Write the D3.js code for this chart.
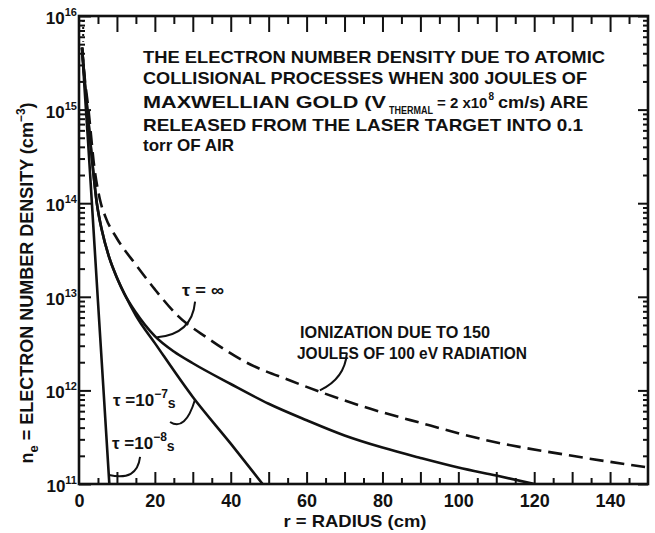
<!DOCTYPE html>
<html>
<head>
<meta charset="utf-8">
<script src="https://cdn.jsdelivr.net/npm/d3@7"></script>
<style>
  body { margin: 0; background: #fff; }
  text { font-family: "Liberation Sans", Arial, sans-serif; font-weight: bold; fill: #111; }
</style>
</head>
<body>
<svg id="chart" width="655" height="533"></svg>
<script>
// Axis ticks
const radiusTickValues = [0, 20, 40, 60, 80, 100, 120, 140];
const decadeTicks = [1e11, 1e12, 1e13, 1e14, 1e15, 1e16];
const decadeExponents = ["11", "12", "13", "14", "15", "16"];

// Collisional electron density, tau = infinity (cm, cm^-3)
const tauInfRadius  = [0.8, 1.5, 2.2, 3, 4.7, 6, 8, 10, 12, 15, 20, 25, 30, 40, 50, 60, 70, 80, 90, 100, 110, 120];
const tauInfDensity = [4.6e15, 2.0e15, 1.0e15, 4.5e14, 1.0e14, 5.2e13, 2.6e13, 1.6e13, 1.07e13, 6.8e12, 3.8e12, 2.6e12, 1.95e12, 1.17e12, 7.2e11, 4.8e11, 3.3e11, 2.45e11, 1.9e11, 1.5e11, 1.23e11, 1.0e11];

// tau = 1e-7 s
const tau7Radius  = [0.8, 1.5, 2.2, 3, 4.7, 6, 8, 10, 12, 15, 20, 30, 40, 48.4];
const tau7Density = [4.6e15, 2.0e15, 1.0e15, 4.5e14, 1.0e14, 5.2e13, 2.6e13, 1.6e13, 1.07e13, 6.3e12, 3.2e12, 8.5e11, 2.7e11, 1.0e11];

// tau = 1e-8 s
const tau8Radius  = [0.8, 1.5, 2.4, 3.4, 5, 6.5, 8];
const tau8Density = [4.6e15, 1.6e15, 4.5e14, 1.0e14, 8.9e12, 9.5e11, 1.0e11];

// Ionization due to 150 J of 100 eV radiation (dashed)
const radRadius  = [0.8, 1.5, 2.5, 4, 5.5, 7, 10, 15, 20, 26, 34, 44, 56, 64, 74, 90, 108, 130, 150];
const radDensity = [4.6e15, 2.2e15, 1.0e15, 2.5e14, 1.1e14, 7.1e13, 4.2e13, 2.2e13, 1.2e13, 6.3e12, 3.6e12, 2.0e12, 1.26e12, 9.5e11, 6.9e11, 4.5e11, 2.9e11, 2.0e11, 1.5e11];

const svg = d3.select("#chart");
const plotLeft = 79, plotRight = 648, plotTop = 16, plotBottom = 484;

const x = d3.scaleLinear().domain([0, 150]).range([plotLeft, plotRight]);
const y = d3.scaleLog().domain([1e11, 1e16]).range([plotBottom, plotTop]);

const axisStroke = 2.6;

// minor log ticks (2..9 in every decade)
const minorY = [];
for (let e = 11; e < 16; e++) for (let m = 2; m <= 9; m++) minorY.push(m * Math.pow(10, e));
const minorX = d3.range(5, 150, 10);
const tenX = d3.range(10, 150, 10);

function styleAxis(g) {
  g.select(".domain").remove();
  g.selectAll(".tick line").attr("stroke", "#111").attr("stroke-width", 2);
}

// bottom axis: labelled ticks, then 10- and 5-unit ticks pointing inward
svg.append("g").attr("transform", `translate(0,${plotBottom})`)
  .call(d3.axisBottom(x).tickValues(radiusTickValues).tickSize(0).tickPadding(10).tickFormat(d3.format("d")))
  .call(styleAxis)
  .selectAll("text").attr("font-size", 18).attr("font-family", "Liberation Sans, Arial, sans-serif").attr("font-weight", "bold").attr("fill", "#111");
svg.append("g").attr("transform", `translate(0,${plotBottom})`)
  .call(d3.axisBottom(x).tickValues(tenX).tickSize(-12).tickFormat(""))
  .call(styleAxis);
svg.append("g").attr("transform", `translate(0,${plotBottom})`)
  .call(d3.axisBottom(x).tickValues(minorX).tickSize(-6).tickFormat(""))
  .call(styleAxis);

// top axis
svg.append("g").attr("transform", `translate(0,${plotTop})`)
  .call(d3.axisTop(x).tickValues(tenX).tickSize(-16).tickFormat(""))
  .call(styleAxis);
svg.append("g").attr("transform", `translate(0,${plotTop})`)
  .call(d3.axisTop(x).tickValues(minorX).tickSize(-8).tickFormat(""))
  .call(styleAxis);

// left axis
svg.append("g").attr("transform", `translate(${plotLeft},0)`)
  .call(d3.axisLeft(y).tickValues(decadeTicks).tickSize(-12).tickFormat(""))
  .call(styleAxis);
svg.append("g").attr("transform", `translate(${plotLeft},0)`)
  .call(d3.axisLeft(y).tickValues(minorY).tickSize(-6).tickFormat(""))
  .call(styleAxis);

// right axis
svg.append("g").attr("transform", `translate(${plotRight},0)`)
  .call(d3.axisRight(y).tickValues(decadeTicks).tickSize(-10).tickFormat(""))
  .call(styleAxis);
svg.append("g").attr("transform", `translate(${plotRight},0)`)
  .call(d3.axisRight(y).tickValues(minorY).tickSize(-5).tickFormat(""))
  .call(styleAxis);

// frame
svg.append("rect")
  .attr("x", plotLeft).attr("y", plotTop)
  .attr("width", plotRight - plotLeft).attr("height", plotBottom - plotTop)
  .attr("fill", "none").attr("stroke", "#111").attr("stroke-width", axisStroke);

// decade labels, 10 with superscript exponent
decadeTicks.forEach((v, i) => {
  const t = svg.append("text")
    .attr("x", plotLeft - 2).attr("y", y(v) + 8)
    .attr("text-anchor", "end").attr("font-size", 17);
  t.append("tspan").text("10");
  t.append("tspan").attr("dy", -8).attr("font-size", 11).text(decadeExponents[i]);
});

// curves
svg.append("clipPath").attr("id", "plotClip")
  .append("rect").attr("x", plotLeft).attr("y", plotTop)
  .attr("width", plotRight - plotLeft).attr("height", plotBottom - plotTop);

const line = d3.line()
  .x(d => x(d[0])).y(d => y(d[1]))
  .curve(d3.curveMonotoneX);

const plot = svg.append("g").attr("clip-path", "url(#plotClip)");

function drawCurve(rs, ns, dashed) {
  plot.append("path")
    .datum(d3.zip(rs, ns))
    .attr("d", line)
    .attr("fill", "none")
    .attr("stroke", "#111")
    .attr("stroke-width", 2.6)
    .attr("stroke-linecap", "butt")
    .attr("stroke-dasharray", dashed ? "14 7" : null);
}

drawCurve(radRadius, radDensity, true);
drawCurve(tauInfRadius, tauInfDensity, false);
drawCurve(tau7Radius, tau7Density, false);
drawCurve(tau8Radius, tau8Density, false);

// short dotted segment near the origin at the top
plot.append("line")
  .attr("x1", x(1.1)).attr("x2", x(1.1))
  .attr("y1", y(1e16) + 4).attr("y2", y(5.3e15))
  .attr("stroke", "#111").attr("stroke-width", 2)
  .attr("stroke-dasharray", "2 5");

// leader lines from labels to curves (radius, density)
function leader(p0, c, p1) {
  svg.append("path")
    .attr("d", `M${x(p0[0])},${y(p0[1])} Q${x(c[0])},${y(c[1])} ${x(p1[0])},${y(p1[1])}`)
    .attr("fill", "none").attr("stroke", "#111").attr("stroke-width", 2);
}
leader([30.6, 8.9e12], [29.8, 4.0e12], [20.6, 3.7e12]);   // tau = infinity
leader([24, 4.6e11], [28, 3.6e11], [30.6, 8.0e11]);       // tau = 1e-7
leader([16.1, 1.95e11], [15.3, 1.06e11], [7.9, 1.25e11]); // tau = 1e-8
leader([70.6, 2.5e12], [70.1, 1.34e12], [63.5, 1.0e12]);  // radiation

// curve labels
svg.append("text").attr("x", 182).attr("y", 296).attr("font-size", 17)
  .attr("textLength", 42).attr("lengthAdjust", "spacingAndGlyphs").text("τ = ∞");

function tauLabel(px, py, exp) {
  const t = svg.append("text").attr("x", px).attr("y", py).attr("font-size", 17);
  t.append("tspan").text("τ =10");
  t.append("tspan").attr("dy", -8).attr("font-size", 12).text(exp);
  t.append("tspan").attr("dy", 10).attr("font-size", 14).text("s");
}
tauLabel(113, 406, "−7");
tauLabel(112, 449, "−8");

svg.append("text").attr("x", 300).attr("y", 338).attr("font-size", 16)
  .attr("textLength", 190).attr("lengthAdjust", "spacingAndGlyphs")
  .text("IONIZATION DUE TO 150");
svg.append("text").attr("x", 297).attr("y", 359).attr("font-size", 16)
  .attr("textLength", 230).attr("lengthAdjust", "spacingAndGlyphs")
  .text("JOULES OF 100 eV RADIATION");

// descriptive block
const noteX = 143;
function noteText(s, px, by, w, size) {
  const t = svg.append("text").attr("x", px).attr("y", by).attr("font-size", size || 17).text(s);
  if (w) t.attr("textLength", w).attr("lengthAdjust", "spacingAndGlyphs");
  return t;
}
noteText("THE ELECTRON NUMBER DENSITY DUE TO ATOMIC", noteX, 63, 462);
noteText("COLLISIONAL PROCESSES WHEN 300 JOULES OF", noteX, 84, 444);
noteText("MAXWELLIAN GOLD (V", noteX, 108, 243);
noteText("THERMAL", 389, 114, 44, 11);
const vth = svg.append("text").attr("x", 437).attr("y", 108).attr("font-size", 15);
vth.append("tspan").text("= 2 x10");
vth.append("tspan").attr("dx", 1).attr("dy", -8).attr("font-size", 10).text("8");
noteText("cm/s) ARE", 498, 108, 90);
noteText("RELEASED FROM THE LASER TARGET INTO 0.1", noteX, 131, 440);
noteText("torr OF AIR", noteX, 151);

// axis titles
svg.append("text").attr("x", 355).attr("y", 527).attr("text-anchor", "middle").attr("font-size", 17)
  .attr("textLength", 143).attr("lengthAdjust", "spacingAndGlyphs")
  .text("r = RADIUS (cm)");

const yt = svg.append("text")
  .attr("transform", "translate(33,283) rotate(-90)")
  .attr("text-anchor", "middle").attr("font-size", 18);
yt.append("tspan").text("n");
yt.append("tspan").attr("dy", 5).attr("font-size", 13).text("e");
yt.append("tspan").attr("dy", -5).text(" = ELECTRON NUMBER DENSITY (cm");
yt.append("tspan").attr("dy", -8).attr("font-size", 12).text("−3");
yt.append("tspan").attr("dy", 8).text(")");
</script>
</body>
</html>
